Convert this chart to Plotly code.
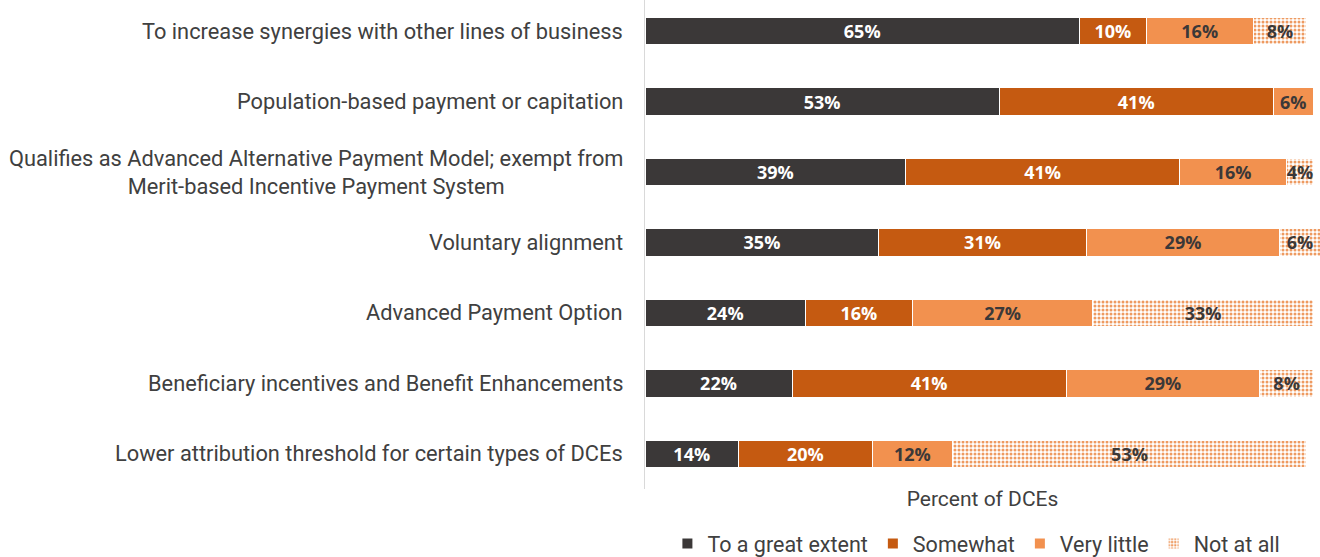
import plotly.graph_objects as go

categories = [
    "To increase synergies with other lines of business",
    "Population-based payment or capitation",
    "Qualifies as Advanced Alternative Payment Model; exempt from<br>Merit-based Incentive Payment System",
    "Voluntary alignment",
    "Advanced Payment Option",
    "Beneficiary incentives and Benefit Enhancements",
    "Lower attribution threshold for certain types of DCEs",
]

great_extent = [65, 53, 39, 35, 24, 22, 14]
somewhat = [10, 41, 41, 31, 16, 41, 20]
very_little = [16, 6, 16, 29, 27, 29, 12]
not_at_all = [8, None, 4, 6, 33, 8, 53]

series = [
    ("To a great extent", great_extent, "#3B3838", "white"),
    ("Somewhat", somewhat, "#C55A11", "white"),
    ("Very little", very_little, "#F2914F", "#3B3838"),
    ("Not at all", not_at_all, "#F2914F", "#3B3838"),
]

LABEL_FONT = "Roboto, Arial, sans-serif"
BAR_FONT = "Open Sans, Arial, sans-serif"

fig = go.Figure()
for name, vals, color, txtcolor in series:
    texts = [f"{v}%" if v is not None else "" for v in vals]
    marker = dict(color=color, line=dict(color="white", width=1))
    if name == "Not at all":
        marker = dict(
            color="white",
            line=dict(color="white", width=1),
            pattern=dict(shape=".", fgcolor="#EE9A60", bgcolor="white",
                         size=4, solidity=0.45, fillmode="replace"),
        )
    fig.add_trace(go.Bar(
        name=name,
        y=list(range(len(categories))),
        x=vals,
        orientation="h",
        marker=marker,
        text=texts,
        textposition="inside",
        insidetextanchor="middle",
        textangle=0,
        constraintext="none",
        cliponaxis=False,
        textfont=dict(family=BAR_FONT, size=18, color=txtcolor, weight="bold"),
        width=0.39,
        hoverinfo="skip",
    ))

# Category labels, centered line by line and right-anchored at the axis
for i, cat in enumerate(categories):
    fig.add_annotation(
        x=0, xref="paper", xanchor="right", xshift=-20,
        y=i, yref="y", yanchor="middle",
        text=cat, showarrow=False, align="center",
        font=dict(family=LABEL_FONT, size=21.8, color="#404040"),
    )

fig.update_layout(
    barmode="stack",
    width=1320, height=557,
    margin=dict(l=645, r=0, t=0, b=68),
    plot_bgcolor="white", paper_bgcolor="white",
    showlegend=True,
    legend=dict(
        orientation="h", x=0.7397, xref="container", xanchor="center",
        y=0.024, yref="container", yanchor="middle",
        font=dict(family=LABEL_FONT, size=21.5, color="#404040"),
        traceorder="normal", itemwidth=30,
        itemsizing="constant",
    ),
)
fig.update_xaxes(
    range=[0, 101], showgrid=False, zeroline=False, showticklabels=False,
    ticks="", automargin=False,
    title=dict(text="Percent of DCEs", standoff=2,
               font=dict(family=LABEL_FONT, size=21, color="#404040")),
)
fig.update_yaxes(
    range=[6.497, -0.44], showgrid=False, zeroline=False, automargin=False,
    showticklabels=False, ticks="", showline=True, linecolor="#D9D9D9",
    linewidth=1,
)

fig.write_html("out.html")
